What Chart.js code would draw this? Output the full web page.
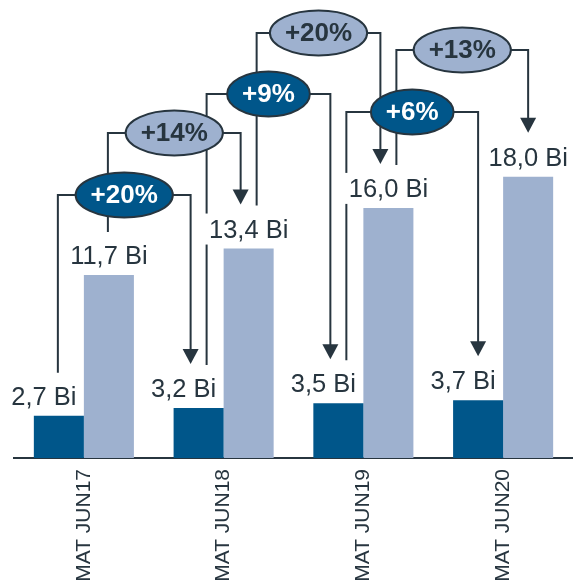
<!DOCTYPE html>
<html>
<head>
<meta charset="utf-8">
<script src="https://cdn.jsdelivr.net/npm/chart.js@4.4.1/dist/chart.umd.min.js"></script>
<style>
  html, body { margin: 0; padding: 0; background: #fff; }
  #wrap { width: 573px; height: 586px; }
</style>
</head>
<body>
<div id="wrap"><canvas id="matChart"></canvas></div>
<script>
const periods = ['MAT JUN17', 'MAT JUN18', 'MAT JUN19', 'MAT JUN20'];
const darkValues = [2.7, 3.2, 3.5, 3.7];
const lightValues = [11.7, 13.4, 16.0, 18.0];
const darkGrowth = ['+20%', '+9%', '+6%'];
const lightGrowth = ['+14%', '+20%', '+13%'];

const DARK = '#00568a';
const LIGHT = '#9eb1cf';
const INK = '#27353f';
const FONT = '"Liberation Sans", Arial, sans-serif';

// pixel height of the horizontal run of each growth arrow
const darkLevels = [195, 94, 112];
const lightLevels = [133, 33, 50];

const fmt = (v) => v.toFixed(1).replace('.', ',') + ' Bi';

const growthArrows = {
  id: 'growthArrows',
  afterDatasetsDraw(chart) {
    const ctx = chart.ctx;
    const groups = [
      { idx: 0, values: darkValues, tags: darkGrowth, levels: darkLevels, fill: DARK, text: '#fff', shift: -15 },
      { idx: 1, values: lightValues, tags: lightGrowth, levels: lightLevels, fill: LIGHT, text: INK, shift: 0 },
    ];
    const ovals = [];

    ctx.save();
    ctx.strokeStyle = INK;
    ctx.fillStyle = INK;
    ctx.lineWidth = 2;
    groups.forEach((g) => {
      const bars = chart.getDatasetMeta(g.idx).data;
      for (let i = 0; i < bars.length - 1; i++) {
        const x0 = bars[i].x + (i > 0 ? 8 : -1);
        const x1 = bars[i + 1].x + (i + 1 < bars.length - 1 ? -8 : 0);
        const y = g.levels[i];
        const y0 = bars[i].y - 43;
        const tip = bars[i + 1].y - 44;
        ctx.beginPath();
        ctx.moveTo(x0, y0);
        ctx.lineTo(x0, y);
        ctx.lineTo(x1, y);
        ctx.lineTo(x1, tip - 12);
        ctx.stroke();
        ctx.beginPath();
        ctx.moveTo(x1 - 8, tip - 15);
        ctx.lineTo(x1 + 8, tip - 15);
        ctx.lineTo(x1, tip);
        ctx.closePath();
        ctx.fill();
        ovals.push({ x: (x0 + x1) / 2, y, tag: g.tags[i], fill: g.fill, text: g.text });
      }
    });

    // value labels on a white box, cutting the lines behind them
    ctx.font = '25.5px ' + FONT;
    ctx.textAlign = 'center';
    ctx.textBaseline = 'alphabetic';
    groups.forEach((g) => {
      const bars = chart.getDatasetMeta(g.idx).data;
      bars.forEach((bar, i) => {
        const txt = fmt(g.values[i]);
        const w = ctx.measureText(txt).width;
        const x = bar.x + g.shift;
        const y = bar.y - 11;
        ctx.fillStyle = '#fff';
        ctx.fillRect(x - w / 2 - 4, y - 24, w + 8, 31);
        ctx.fillStyle = INK;
        ctx.fillText(txt, x, y);
      });
    });

    // growth bubbles on top of everything
    ctx.font = 'bold 26px ' + FONT;
    ctx.textBaseline = 'middle';
    ovals.forEach((o) => {
      const w = ctx.measureText(o.tag).width;
      ctx.beginPath();
      ctx.ellipse(o.x, o.y, w / 2 + 15, 22.5, 0, 0, Math.PI * 2);
      ctx.fillStyle = o.fill;
      ctx.fill();
      ctx.lineWidth = 2;
      ctx.strokeStyle = INK;
      ctx.stroke();
      ctx.fillStyle = o.text;
      ctx.fillText(o.tag, o.x, o.y + 1);
    });
    ctx.restore();
  },
};

new Chart(document.getElementById('matChart'), {
  type: 'bar',
  data: {
    labels: periods,
    datasets: [
      {
        data: darkValues,
        backgroundColor: DARK,
        categoryPercentage: 0.716,
        barPercentage: 1,
      },
      {
        data: lightValues,
        backgroundColor: LIGHT,
        categoryPercentage: 0.716,
        barPercentage: 1,
      },
    ],
  },
  options: {
    responsive: true,
    maintainAspectRatio: false,
    animation: false,
    layout: { padding: { left: 14, right: 0, top: 0, bottom: 0 } },
    plugins: {
      legend: { display: false },
      tooltip: { enabled: false },
    },
    scales: {
      x: {
        grid: { display: false },
        border: { color: INK, width: 2 },
        ticks: {
          minRotation: 90,
          maxRotation: 90,
          padding: 3,
          color: INK,
          font: { family: FONT, size: 21 },
        },
        afterFit: (scale) => { scale.height = 128; },
      },
      y: {
        display: false,
        min: 0,
        max: 29.3,
      },
    },
  },
  plugins: [growthArrows],
});
</script>
</body>
</html>
